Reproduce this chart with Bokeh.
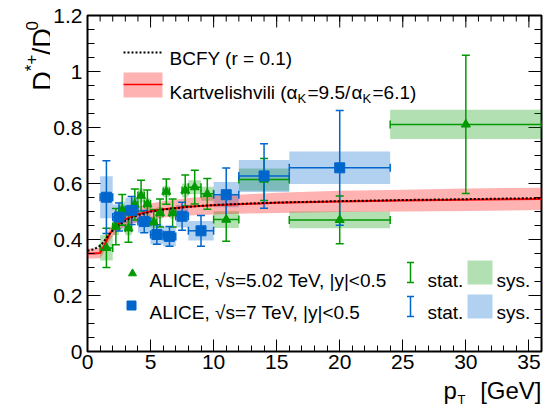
import math

from bokeh.embed import file_html
from bokeh.layouts import column, row
from bokeh.models import FixedTicker, Label, Range1d
from bokeh.plotting import figure
from bokeh.resources import INLINE

# ---------------------------------------------------------------- data
# ALICE, sqrt(s) = 5.02 TeV: pT bins, D*+/D0 ratio, stat. and syst. uncertainties
pt5_lo = [1, 2, 2.5, 3, 3.5, 4, 4.5, 5, 5.5, 6, 6.5, 7.5, 8, 9, 10, 12, 16, 24]
pt5_hi = [2, 2.5, 3, 3.5, 4, 4.5, 5, 5.5, 6, 6.5, 7, 8, 9, 10, 12, 16, 24, 36]
ratio5 = [0.370, 0.446, 0.506, 0.440, 0.525, 0.557, 0.527, 0.462, 0.495,
          0.571, 0.495, 0.575, 0.587, 0.563, 0.471, 0.614, 0.470, 0.811]
stat5 = [0.070, 0.065, 0.055, 0.050, 0.055, 0.055, 0.050, 0.045, 0.050,
         0.045, 0.050, 0.055, 0.060, 0.055, 0.077, 0.075, 0.085, 0.247]
sys5 = [0.045, 0.030, 0.030, 0.025, 0.025, 0.025, 0.020, 0.020, 0.020,
        0.020, 0.020, 0.025, 0.025, 0.025, 0.030, 0.040, 0.030, 0.052]

# ALICE, sqrt(s) = 7 TeV
pt7_lo = [1, 2, 3, 4, 5, 6, 7, 8, 10, 12, 16]
pt7_hi = [2, 3, 4, 5, 6, 7, 8, 10, 12, 16, 24]
ratio7 = [0.551, 0.480, 0.504, 0.464, 0.418, 0.411, 0.483, 0.431, 0.560, 0.627, 0.656]
stat7 = [0.130, 0.050, 0.050, 0.040, 0.035, 0.035, 0.050, 0.055, 0.095, 0.115, 0.205]
sys7 = [0.075, 0.045, 0.045, 0.040, 0.035, 0.035, 0.040, 0.035, 0.045, 0.057, 0.058]

# Model curves
pt_model = [0, 0.5, 1.0, 1.25, 1.5, 1.75, 2.0, 2.5, 3, 3.5, 4, 5, 6, 8, 10, 12, 15, 20, 25, 30, 36]
bcfy = [0.360, 0.365, 0.378, 0.390, 0.405, 0.420, 0.432, 0.452, 0.467, 0.478, 0.487,
        0.499, 0.507, 0.517, 0.523, 0.527, 0.532, 0.537, 0.541, 0.544, 0.548]
kart = [0.350, 0.350, 0.352, 0.370, 0.395, 0.418, 0.435, 0.457, 0.472, 0.482, 0.490,
        0.501, 0.508, 0.517, 0.522, 0.526, 0.531, 0.536, 0.539, 0.542, 0.545]
kart_unc = [0.018, 0.018, 0.019, 0.020, 0.021, 0.022, 0.023, 0.024, 0.025, 0.026, 0.027,
            0.028, 0.029, 0.031, 0.033, 0.034, 0.036, 0.038, 0.039, 0.040, 0.040]

x_ticks = [0, 5, 10, 15, 20, 25, 30, 35]
y_ticks = [0, 0.2, 0.4, 0.6, 0.8, 1, 1.2]
x_minor = list(range(0, 37))
y_minor = [round(i * 0.05, 2) for i in range(0, 25)]

# ---------------------------------------------------------------- styles
GREEN = "#009900"
BLUE = "#0066cc"
RED = "#ff0000"
FONT = "Liberation Sans"

W, H = 547, 412                 # whole page
YT_W = 50                       # strip left of the plot holding the y title
XT_H = 32                       # strip below the plot holding the x title
MAIN_W, MAIN_H = W - YT_W, H - XT_H
FL, FR, FT, FB = 87, 6, 15, 61  # frame borders measured on the whole page
XMIN, XMAX, YMIN, YMAX = 0, 36, 0, 1.2
FW, FH = W - FL - FR, H - FT - FB


def dx(px):
    """page pixel column -> data x"""
    return XMIN + (px - FL) / FW * (XMAX - XMIN)


def dy(py):
    """page pixel row -> data y"""
    return YMAX - (py - FT) / FH * (YMAX - YMIN)


p = figure(width=MAIN_W, height=MAIN_H, x_range=Range1d(XMIN, XMAX), y_range=Range1d(YMIN, YMAX),
           output_backend="svg", toolbar_location=None, title=None,
           min_border_left=FL - YT_W, min_border_right=FR, min_border_top=FT,
           min_border_bottom=MAIN_H - (H - FB))
p.background_fill_color = "white"
p.border_fill_color = "white"
p.outline_line_color = "black"
p.outline_line_width = 2
p.grid.visible = False

for ax in (p.xaxis[0], p.yaxis[0]):
    ax.axis_line_color = None
    ax.major_tick_out = 0
    ax.minor_tick_out = 0
    ax.major_tick_line_color = "black"
    ax.minor_tick_line_color = "black"
    ax.major_label_text_font = FONT
    ax.major_label_text_font_size = "21px"
    ax.major_label_text_color = "black"

p.xaxis[0].ticker = FixedTicker(ticks=x_ticks, minor_ticks=x_minor)
p.yaxis[0].ticker = FixedTicker(ticks=y_ticks, minor_ticks=y_minor)
p.xaxis[0].major_tick_in = 12
p.xaxis[0].minor_tick_in = 6
p.yaxis[0].major_tick_in = 13
p.yaxis[0].minor_tick_in = 7
p.xaxis[0].major_label_standoff = 3
p.yaxis[0].major_label_standoff = 5
p.yaxis[0].major_label_overrides = {0: "0", 1: "1"}

# mirrored ticks along the top and right frame edges
ty_major, ty_minor = 12 * (YMAX - YMIN) / FH, 6 * (YMAX - YMIN) / FH
tx_major, tx_minor = 13 * (XMAX - XMIN) / FW, 7 * (XMAX - XMIN) / FW
p.segment(x0=x_ticks, y0=[YMAX] * len(x_ticks), x1=x_ticks, y1=[YMAX - ty_major] * len(x_ticks),
          line_color="black", line_width=1)
p.segment(x0=x_minor, y0=[YMAX] * len(x_minor), x1=x_minor, y1=[YMAX - ty_minor] * len(x_minor),
          line_color="black", line_width=1)
p.segment(x0=[XMAX] * len(y_ticks), y0=y_ticks, x1=[XMAX - tx_major] * len(y_ticks), y1=y_ticks,
          line_color="black", line_width=1)
p.segment(x0=[XMAX] * len(y_minor), y0=y_minor, x1=[XMAX - tx_minor] * len(y_minor), y1=y_minor,
          line_color="black", line_width=1)

# ---------------------------------------------------------------- systematic boxes
p.quad(left=pt5_lo, right=pt5_hi,
       bottom=[v - s for v, s in zip(ratio5, sys5)], top=[v + s for v, s in zip(ratio5, sys5)],
       fill_color=GREEN, fill_alpha=0.3, line_color=None)
p.quad(left=pt7_lo, right=pt7_hi,
       bottom=[v - s for v, s in zip(ratio7, sys7)], top=[v + s for v, s in zip(ratio7, sys7)],
       fill_color=BLUE, fill_alpha=0.3, line_color=None)

# Kartvelishvili band
p.varea(x=pt_model, y1=[k - u for k, u in zip(kart, kart_unc)],
        y2=[k + u for k, u in zip(kart, kart_unc)], fill_color=RED, fill_alpha=0.3)


def error_bars(lo, hi, val, err, color):
    xc = [(a + b) / 2 for a, b in zip(lo, hi)]
    p.segment(x0=xc, y0=[v - e for v, e in zip(val, err)], x1=xc,
              y1=[v + e for v, e in zip(val, err)], line_color=color, line_width=1.5)
    p.segment(x0=lo, y0=val, x1=hi, y1=val, line_color=color, line_width=1.5)
    ends_y = [v - e for v, e in zip(val, err)] + [v + e for v, e in zip(val, err)]
    p.scatter(x=xc + xc, y=ends_y, marker="dash", size=8, line_color=color, line_width=1.5)
    p.scatter(x=lo + hi, y=val + val, marker="dash", size=8, angle=math.pi / 2,
              line_color=color, line_width=1.5)
    return xc


xc5 = error_bars(pt5_lo, pt5_hi, ratio5, stat5, GREEN)
xc7 = error_bars(pt7_lo, pt7_hi, ratio7, stat7, BLUE)

# model curves
p.line(pt_model, kart, line_color=RED, line_width=2)
p.line(pt_model, bcfy, line_color="black", line_width=2, line_dash="2 2")

# markers
p.scatter(xc5, ratio5, marker="triangle", size=9, fill_color=GREEN, line_color=GREEN)
p.scatter(xc7, ratio7, marker="square", size=10, fill_color=BLUE, line_color=BLUE)


# ---------------------------------------------------------------- legend
def text(fig, x, y, s, size=19, align="left", angle=0.0):
    fig.add_layout(Label(x=x, y=y, text=s, text_font=FONT,
                         text_font_size=f"{size}px", text_align=align,
                         text_baseline="alphabetic", angle=angle, text_color="black"))


def ptext(px, py, s, size=19):
    text(p, dx(px), dy(py), s, size)


p.line([dx(123), dx(162)], [dy(52), dy(52)], line_color="black", line_width=2, line_dash="2 2")
ptext(169, 58, "BCFY (r = 0.1)")
p.quad(left=[dx(123)], right=[dx(162)], bottom=[dy(97)], top=[dy(72)],
       fill_color=RED, fill_alpha=0.3, line_color=None)
p.line([dx(123), dx(162)], [dy(84), dy(84)], line_color=RED, line_width=1.5)
ptext(169, 92, "Kartvelishvili (")
ptext(286, 92, "α")
ptext(297, 98, "K", size=13)
ptext(307, 92, "=9.5/")
ptext(351, 92, "α")
ptext(362, 98, "K", size=13)
ptext(372, 92, "=6.1)")

p.scatter([dx(132)], [dy(273)], marker="triangle", size=8, fill_color=GREEN, line_color=GREEN)
ptext(149, 280, "ALICE, √s=5.02 TeV, |y|<0.5")
p.scatter([dx(131)], [dy(305)], marker="square", size=9, fill_color=BLUE, line_color=BLUE)
ptext(149, 312, "ALICE, √s=7 TeV, |y|<0.5")

for (y_top, y_bot, col, base) in ((262, 282, GREEN, 280), (296, 316, BLUE, 312)):
    p.segment(x0=[dx(410)], y0=[dy(y_top)], x1=[dx(410)], y1=[dy(y_bot)], line_color=col, line_width=1.5)
    p.scatter([dx(410), dx(410)], [dy(y_top), dy(y_bot)], marker="dash", size=7,
              line_color=col, line_width=1.5)
    ptext(427, base, "stat.")
    p.quad(left=[dx(467)], right=[dx(492)], bottom=[dy(y_bot + 2)], top=[dy(y_top - 2)],
           fill_color=col, fill_alpha=0.3, line_color=None)
    ptext(496, base, "sys.")


# ---------------------------------------------------------------- axis titles
def strip(w, h):
    f = figure(width=w, height=h, x_range=Range1d(0, w), y_range=Range1d(0, h),
               output_backend="svg", toolbar_location=None, title=None,
               x_axis_location=None, y_axis_location=None, min_border=0)
    f.outline_line_color = None
    f.background_fill_color = "white"
    f.border_fill_color = "white"
    f.grid.visible = False
    return f


# y title, drawn bottom-to-top; coordinates are page pixels (y flipped)
ytitle = strip(YT_W, MAIN_H)
rot = math.pi / 2
text(ytitle, 42, MAIN_H - 85, "D", size=27, angle=rot)
text(ytitle, 31, MAIN_H - 63, "*+", size=17, angle=rot)
text(ytitle, 42, MAIN_H - 45, "/D", size=27, angle=rot)
text(ytitle, 31, MAIN_H - 17, "0", size=17, angle=rot)

# x title (baselines measured from the bottom of the strip)
xtitle = strip(W, XT_H)
text(xtitle, 541, 22, "[GeV]", size=24, align="right")
text(xtitle, 443, 22, "p", size=24)
text(xtitle, 457, 13, "T", size=13)

page = column(row(ytitle, p, spacing=0), xtitle, spacing=0)
open("out.html", "w").write(file_html(page, INLINE))
